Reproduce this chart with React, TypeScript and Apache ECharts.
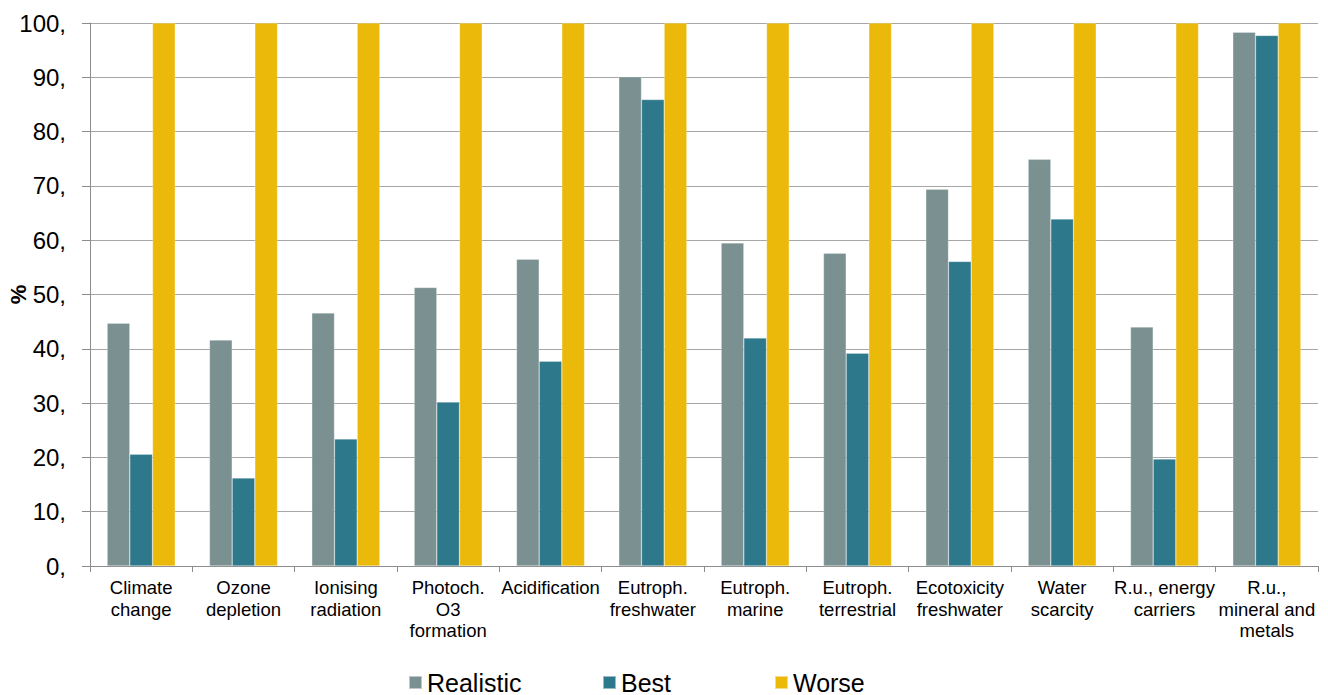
import React, { useEffect, useRef } from "react";
import * as echarts from "echarts";

const categories = [
  "Climate\nchange",
  "Ozone\ndepletion",
  "Ionising\nradiation",
  "Photoch.\nO3\nformation",
  "Acidification",
  "Eutroph.\nfreshwater",
  "Eutroph.\nmarine",
  "Eutroph.\nterrestrial",
  "Ecotoxicity\nfreshwater",
  "Water\nscarcity",
  "R.u., energy\ncarriers",
  "R.u.,\nmineral and\nmetals",
];
const realistic = [44.7, 41.6, 46.6, 51.3, 56.5, 90.1, 59.5, 57.6, 69.4, 74.9, 44.0, 98.3];
const best = [20.6, 16.2, 23.4, 30.2, 37.7, 85.9, 42.0, 39.2, 56.1, 63.9, 19.7, 97.7];
const worse = [100, 100, 100, 100, 100, 100, 100, 100, 100, 100, 100, 100];
const seriesNames = ["Realistic", "Best", "Worse"];
const colors = ["#7b9191", "#2e788c", "#ebb90a"];

export default function App() {
  const ref = useRef<HTMLDivElement>(null);
  useEffect(() => {
    if (!ref.current) return;
    const chart = echarts.init(ref.current, null, { renderer: "svg" });
    const font = "Arial, 'Liberation Sans', sans-serif";
    const legendPos = [408, 602, 774];
    const data = [realistic, best, worse];
    chart.setOption({
      animation: false,
      textStyle: { fontFamily: font },
      grid: { left: 90, right: 10, top: 23, bottom: 129, outerBoundsMode: "none", containLabel: false },
      legend: seriesNames.map((n, i) => ({
        data: [n],
        left: legendPos[i],
        top: 670,
        itemWidth: 13,
        itemHeight: 13,
        icon: "rect",
        itemGap: 0,
        padding: 0,
        textStyle: { fontSize: 25, color: "#000", fontFamily: font },
      })),
      xAxis: {
        type: "category",
        data: categories,
        axisLine: { lineStyle: { color: "#8c8c8c", width: 1 } },
        axisTick: { show: true, length: 6, lineStyle: { color: "#8c8c8c" } },
        axisLabel: {
          interval: 0,
          color: "#000",
          fontSize: 18.5,
          lineHeight: 21.5,
          margin: 11,
          fontFamily: font,
        },
      },
      yAxis: {
        type: "value",
        min: 0,
        max: 100,
        interval: 10,
        name: "%",
        nameLocation: "middle",
        nameGap: 61,
        nameMoveOverlap: false,
        nameRotate: 90,
        nameTextStyle: { fontSize: 22, fontWeight: "bold", color: "#000", fontFamily: font },
        axisLine: { show: true, lineStyle: { color: "#8c8c8c", width: 1 } },
        axisTick: { show: true, length: 8, lineStyle: { color: "#8c8c8c" } },
        splitLine: { lineStyle: { color: "#a6a6a6", width: 1 } },
        axisLabel: {
          color: "#000",
          fontSize: 24,
          margin: 24,
          fontFamily: font,
          formatter: (v: number) => v + ",",
        },
      },
      series: seriesNames.map((n, i) => ({
        name: n,
        type: "bar",
        data: data[i],
        barGap: "0%",
        barCategoryGap: "33.5%",
        itemStyle: { color: colors[i], borderColor: "rgba(255,255,255,0.5)", borderWidth: 0.5 },
      })),
    });
    return () => chart.dispose();
  }, []);
  return (
    <div
      ref={ref}
      style={{ position: "fixed", left: 0, top: 0, width: 1328, height: 695, background: "#fff" }}
    />
  );
}
